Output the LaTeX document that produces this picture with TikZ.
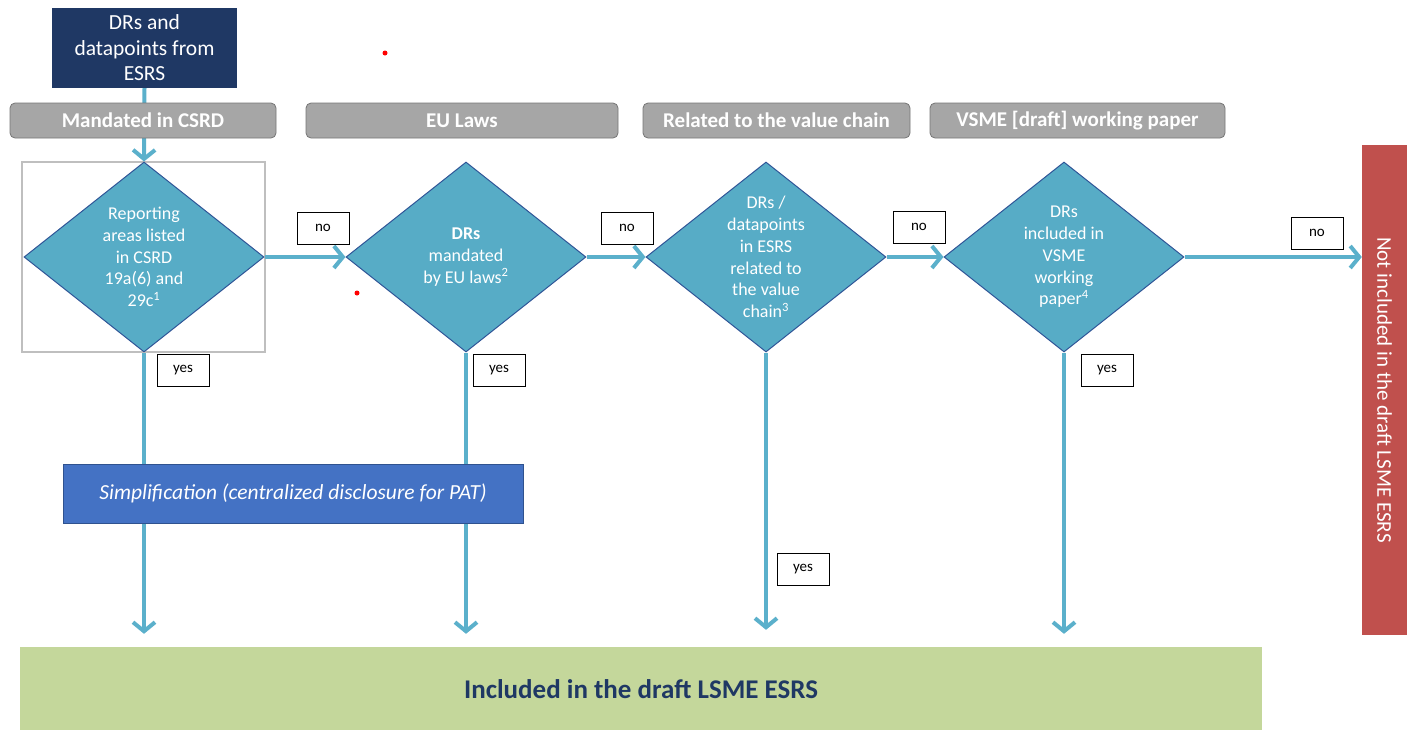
\documentclass[tikz,border=0pt]{standalone}
\usepackage{fontspec}
\setmainfont{Carlito}
\usetikzlibrary{arrows.meta}
\usetikzlibrary{shapes.geometric}
\definecolor{esrsnavy}{RGB}{31,56,100}
\definecolor{bargrey}{RGB}{166,166,166}
\definecolor{bardark}{RGB}{118,118,118}
\definecolor{framegrey}{RGB}{191,191,191}
\definecolor{diafill}{RGB}{87,172,198}
\definecolor{diaedge}{RGB}{47,85,151}
\definecolor{flowblue}{RGB}{91,176,203}
\definecolor{simpblue}{RGB}{68,114,196}
\definecolor{simpedge}{RGB}{47,82,143}
\definecolor{incgreen}{RGB}{196,215,155}
\definecolor{notred}{RGB}{192,80,77}
\tikzstyle{flowline}=[draw=flowblue,line width=4pt,-{Straight Barb[length=9pt,width=22pt]}]
\tikzstyle{criterion}=[draw=bardark,fill=bargrey,rounded corners=5pt,line width=0.8pt,
  minimum height=35pt,inner sep=0pt,text=white,font=\fontsize{21}{24}\selectfont\bfseries]
\tikzstyle{decision}=[diamond,draw=diaedge,fill=diafill,line width=1pt,
  minimum width=240pt,minimum height=190pt,inner sep=0pt]
\tikzstyle{dtext}=[text=white,align=center,font=\fontsize{18}{21.7}\selectfont]
\tikzstyle{answer}=[draw=black,fill=white,line width=0.8pt,minimum width=52pt,
  minimum height=32pt,inner sep=0pt,font=\fontsize{15}{17}\selectfont]

\begin{document}
\begin{tikzpicture}[x=1pt,y=-1pt]
  \useasboundingbox (0,0) rectangle (1407,729);

  % boxes at start and end
  \node[fill=esrsnavy,minimum width=185pt,minimum height=80pt,inner sep=0pt,
    text=white,align=center,font=\fontsize{21.5}{25.5}\selectfont] (src) at (144.5,48)
    {DRs and\\datapoints from\\ESRS};
  \node[fill=incgreen,minimum width=1242pt,minimum height=84pt,inner sep=0pt,
    text=esrsnavy,font=\fontsize{27}{30}\selectfont\bfseries] (incl) at (641,689)
    {Included in the draft LSME ESRS};
  \node[fill=notred,minimum width=45pt,minimum height=490pt,inner sep=0pt] (notincl) at (1384.5,390) {};
  \node[rotate=-90,text=white,font=\fontsize{21}{24}\selectfont] at (notincl) {Not included in the draft LSME ESRS};

  % decisions
  \draw[framegrey,line width=2pt] (22,162) rectangle (265,352);
  \node[decision] (d1) at (144,257) {};
  \node[decision] (d2) at (466,257) {};
  \node[decision] (d3) at (766,257) {};
  \node[decision] (d4) at (1064,257) {};
  \node[dtext] at (d1) {Reporting\\areas listed\\in CSRD\\19a(6) and\\29c\textsuperscript{1}};
  \node[dtext] at (d2) {\textbf{DRs}\\mandated\\by EU laws\textsuperscript{2}};
  \node[dtext] at (d3) {DRs /\\datapoints\\in ESRS\\related to\\the value\\chain\textsuperscript{3}};
  \node[dtext] at (d4) {DRs\\included in\\VSME\\working\\paper\textsuperscript{4}};

  % connectors
  \draw[flowline] (src.south) -- (d1.north);
  \draw[flowline] (d1.east) -- (d2.west);
  \draw[flowline] (d2.east) -- (d3.west);
  \draw[flowline] (d3.east) -- (d4.west);
  \draw[flowline] (d4.east) -- (notincl.west |- d4.east);
  \draw[flowline,shorten >=13pt] (d1.south) -- (d1.south |- incl.north);
  \draw[flowline,shorten >=13pt] (d2.south) -- (d2.south |- incl.north);
  \draw[flowline,shorten >=17pt] (d3.south) -- (d3.south |- incl.north);
  \draw[flowline,shorten >=13pt] (d4.south) -- (d4.south |- incl.north);

  % criteria bars on top of the lines
  \node[criterion,minimum width=266pt] (csrd) at (143,120.5) {Mandated in CSRD};
  \node[criterion,minimum width=312pt] (eulaws) at (462,120.5) {EU Laws};
  \node[criterion,minimum width=267pt] (chain) at (776.5,120.5) {Related to the value chain};
  \node[criterion,minimum width=295pt] (vsme) at (1077.5,120.5) {VSME [draft] working paper};

  \node[fill=simpblue,draw=simpedge,line width=0.8pt,minimum width=460pt,minimum height=59pt,
    inner sep=0pt,text=white,font=\fontsize{21.5}{24}\selectfont\itshape] (simp) at (293,493.5)
    {Simplification (centralized disclosure for PAT)};

  % yes / no labels
  \node[answer] (no1) at (323,228) {no};
  \node[answer] (no2) at (627,228) {no};
  \node[answer] (no3) at (919,227) {no};
  \node[answer] (no4) at (1317,233) {no};
  \node[answer] (yes1) at (183,370) {yes};
  \node[answer] (yes2) at (499,370) {yes};
  \node[answer] (yes3) at (803,569) {yes};
  \node[answer] (yes4) at (1107,370) {yes};

  % stray marks
  \fill[red] (385,53) circle (2.5pt);
  \fill[red] (357,293) circle (2.5pt);
\end{tikzpicture}
\end{document}
